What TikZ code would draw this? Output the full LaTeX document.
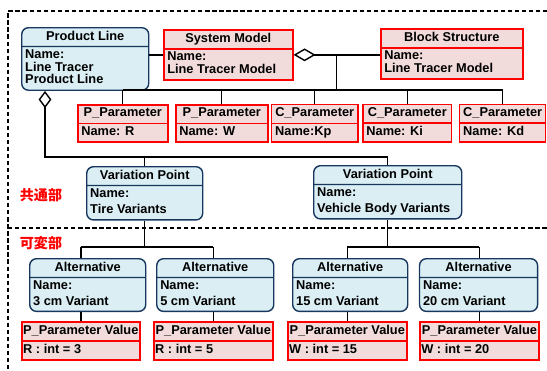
\documentclass[tikz,border=0pt]{standalone}
\usepackage{fontspec}
\setmainfont{Liberation Sans}
\newfontfamily\cjk{Noto Sans CJK JP}
\usetikzlibrary{positioning, arrows.meta, shapes.multipart}
\definecolor{bluefill}{HTML}{DAEEF3}
\definecolor{blueline}{HTML}{17375E}
\definecolor{redfill}{HTML}{F2DCDB}
\definecolor{redline}{HTML}{FF0000}
% one strut per text line keeps the compartments even
\newcommand{\st}{\rule[-2.2pt]{0pt}{6.8pt}}

\begin{document}
\begin{tikzpicture}[
    x=0.025cm, y=-0.025cm,
    umlbase/.style={rectangle split, rectangle split parts=2,
      rectangle split part align={center,left}, align=left,
      inner xsep=2.5pt, inner ysep=1.8pt, anchor=north west},
    redbox/.style={umlbase, draw=redline, fill=redfill, line width=1.1pt,
      font=\fontsize{9.1}{9}\selectfont\bfseries},
    valbox/.style={redbox, inner xsep=1pt},
    bluebox/.style={umlbase, draw=blueline, fill=bluefill, line width=1pt,
      rounded corners=0.17cm, font=\fontsize{9.1}{9}\selectfont\bfseries},
    vpbox/.style={bluebox, font=\fontsize{9.1}{11.4}\selectfont\bfseries},
    altbox/.style={bluebox, font=\fontsize{9.1}{11}\selectfont\bfseries},
    conn/.style={line width=1pt},
    aggr/.style={conn, {Diamond[open, length=#1, width=0.32cm]}-},
    dashframe/.style={line width=0.9pt, dash pattern=on 3pt off 2pt},
    partlabel/.style={font=\cjk\fontsize{10}{10}\selectfont\bfseries,
      text=redline},
  ]
  \useasboundingbox (0,0) rectangle (547,370);

  % dashed frame and split between the two parts
  \draw[dashframe] (547,11) -- (8,11) -- (8,370);
  \draw[dashframe] (8,228) -- (547,228);
  \node[partlabel] (common) at (41,195) {共通部};
  \node[partlabel] (variable) at (41,243) {可変部};

  % top level models
  \node[bluebox, minimum width=3.175cm] (pl) at (21,27)
    {\st Product Line\nodepart{two}\st Name:\\\st Line Tracer\\\st Product Line};
  \node[redbox, minimum width=3.225cm] (sysmodel) at (163,29)
    {\st System Model\nodepart{two}\st Name:\\\st Line Tracer Model};
  \node[redbox, minimum width=3.55cm] (blockstr) at (380,28)
    {\st Block Structure\nodepart{two}\st Name:\\\st Line Tracer Model};

  % parameters
  \node[redbox, minimum width=2.25cm] (pR) at (77,104)
    {\st P\_Parameter\nodepart{two}\st Name: R};
  \node[redbox, minimum width=2.3cm, right=0.16cm of pR] (pW)
    {\st P\_Parameter\nodepart{two}\st Name: W};
  \node[redbox, minimum width=2.15cm, right=0.06cm of pW] (cKp)
    {\st C\_Parameter\nodepart{two}\st Name:Kp};
  \node[redbox, minimum width=2.22cm, right=0.09cm of cKp] (cKi)
    {\st C\_Parameter\nodepart{two}\st Name: Ki};
  \node[redbox, minimum width=2.1cm, right=0.16cm of cKi] (cKd)
    {\st C\_Parameter\nodepart{two}\st Name: Kd};

  % variation points
  \node[vpbox, minimum width=2.9cm] (vpTire) at (86,166)
    {\st Variation Point\nodepart{two}\st Name:\\\st Tire Variants};
  \node[vpbox, minimum width=3.7cm] (vpBody) at (313,165)
    {\st Variation Point\nodepart{two}\st Name:\\\st Vehicle Body Variants};

  % alternatives
  \node[altbox, minimum width=2.9cm] (alt3) at (29,258)
    {\st Alternative\nodepart{two}\st Name:\\\st 3 cm Variant};
  \node[altbox, minimum width=2.925cm, right=0.24cm of alt3] (alt5)
    {\st Alternative\nodepart{two}\st Name:\\\st 5 cm Variant};
  \node[altbox, minimum width=2.875cm] (alt15) at (292,258)
    {\st Alternative\nodepart{two}\st Name:\\\st 15 cm Variant};
  \node[altbox, minimum width=2.95cm, right=0.26cm of alt15] (alt20)
    {\st Alternative\nodepart{two}\st Name:\\\st 20 cm Variant};

  % parameter values
  \node[valbox, minimum width=2.95cm] (val3) at (21,321)
    {\st P\_Parameter Value\nodepart{two}\st R : int = 3};
  \node[valbox, minimum width=2.975cm, right=0.31cm of val3] (val5)
    {\st P\_Parameter Value\nodepart{two}\st R : int = 5};
  \node[valbox, minimum width=2.975cm] (val15) at (287,321)
    {\st P\_Parameter Value\nodepart{two}\st W : int = 15};
  \node[valbox, minimum width=2.975cm, right=0.29cm of val15] (val20)
    {\st P\_Parameter Value\nodepart{two}\st W : int = 20};

  % model links
  \draw[conn] (sysmodel.west) -- (sysmodel.west -| pl.east);
  \draw[aggr=0.55cm] (sysmodel.east) -- (sysmodel.east -| blockstr.west);
  \path (sysmodel.east) -- (sysmodel.east -| blockstr.west)
    coordinate[midway] (tap);
  \coordinate (pbus) at ([yshift=0.35cm]pR.north);
  \draw[conn] (tap) -- (tap |- pbus);
  \draw[conn] (pR.north |- pbus) -- (cKd.north |- pbus);
  \foreach \p in {pR,pW,cKp,cKi,cKd}
    \draw[conn] (\p.north) -- (\p.north |- pbus);

  % product line to variation points
  \coordinate (plfoot) at ([xshift=0.6cm]pl.south west);
  \coordinate (vbus) at ([yshift=0.2cm]vpBody.north);
  \draw[aggr=0.43cm] (plfoot) |- (vbus) -- (vpBody.north);
  \draw[conn] (vpTire.north) -- (vpTire.north |- vbus);

  % variation points to alternatives and values
  \coordinate (abus) at ([yshift=0.275cm]alt3.north);
  \draw[conn] (vpTire.south) -- (vpTire.south |- abus);
  \draw[conn] (vpBody.south) -- (vpBody.south |- abus);
  \draw[conn] (val3.north |- abus) -- (val5.north |- abus);
  \draw[conn] (val15.north |- abus) -- (val20.north |- abus);
  \foreach \a/\v in {alt3/val3, alt5/val5, alt15/val15, alt20/val20} {
    \draw[conn] (\v.north |- abus) -- (\v.north |- \a.north);
    \draw[conn] (\v.north) -- (\v.north |- \a.south);
  }
\end{tikzpicture}
\end{document}
